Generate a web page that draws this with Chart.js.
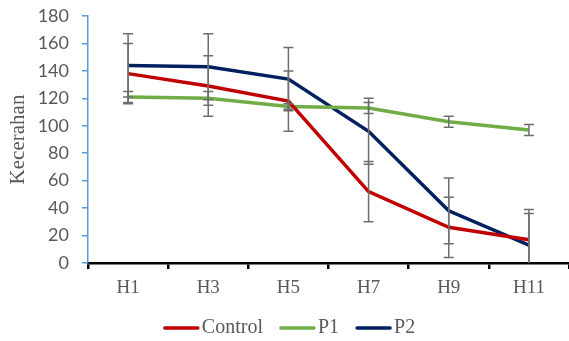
<!DOCTYPE html>
<html lang="en">
<head>
  <meta charset="UTF-8">
  <title>Kecerahan</title>
  <style>
    body { margin: 0; padding: 0; background: #fff; }
    .chart-box { width: 569px; height: 341px; }
  </style>
</head>
<body>
  <div class="chart-box">
    <canvas id="chart" width="569" height="341"></canvas>
  </div>

  <script src="https://cdn.jsdelivr.net/npm/chart.js"></script>
  <script>
    // Data
    const categories = ['H1', 'H3', 'H5', 'H7', 'H9', 'H11'];
    const controlValues = [138, 129, 118, 52, 26, 17];
    const controlErrors = [22, 22, 22, 22, 22, 19];
    const p1Values = [121, 120, 114, 113, 103, 97];
    const p1Errors = [4, 5, 2, 4, 4, 4];
    const p2Values = [144, 143, 134, 96, 38, 13];
    const p2Errors = [23, 24, 23, 24, 24, 26];
    const yTicks = [0, 20, 40, 60, 80, 100, 120, 140, 160, 180];

    const grey = '#595959';

    // Error bars drawn through the scales
    const errorBars = {
      id: 'errorBars',
      afterDatasetsDraw(chart) {
        const { ctx, chartArea, scales } = chart;
        ctx.save();
        ctx.beginPath();
        ctx.rect(chartArea.left - 10, chartArea.top - 10, chartArea.width + 20, chartArea.height + 10);
        ctx.clip();
        ctx.strokeStyle = '#6e6e6e';
        ctx.lineWidth = 1.5;
        chart.data.datasets.forEach(function(ds) {
          ds.values.forEach(function(v, i) {
            const x = scales.x.getPixelForValue(i);
            const top = scales.y.getPixelForValue(v + ds.errors[i]);
            const bottom = scales.y.getPixelForValue(v - ds.errors[i]);
            ctx.beginPath();
            ctx.moveTo(x, top);
            ctx.lineTo(x, bottom);
            ctx.moveTo(x - 5, top);
            ctx.lineTo(x + 5, top);
            ctx.moveTo(x - 5, bottom);
            ctx.lineTo(x + 5, bottom);
            ctx.stroke();
          });
        });
        ctx.restore();
      }
    };

    // Legend at the bottom, Excel style
    const bottomLegend = {
      id: 'bottomLegend',
      afterDraw(chart) {
        const ctx = chart.ctx;
        ctx.save();
        ctx.font = '20px "Liberation Serif"';
        ctx.textBaseline = 'middle';
        const lineLen = 35, gap = 3, spacing = 17;
        const items = chart.data.datasets.map(function(ds) {
          return { label: ds.label, color: ds.borderColor, w: ctx.measureText(ds.label).width };
        });
        let total = 0;
        items.forEach(function(it, i) {
          total += lineLen + gap + it.w + (i < items.length - 1 ? spacing : 0);
        });
        let x = chart.width / 2 + 5 - total / 2;
        const y = 328;
        items.forEach(function(it) {
          ctx.strokeStyle = it.color;
          ctx.lineWidth = 3.5;
          ctx.lineCap = 'round';
          ctx.beginPath();
          ctx.moveTo(x + 1, y);
          ctx.lineTo(x + lineLen - 1, y);
          ctx.stroke();
          ctx.fillStyle = grey;
          ctx.fillText(it.label, x + lineLen + gap, y);
          x += lineLen + gap + it.w + spacing;
        });
        ctx.restore();
      }
    };

    function series(label, values, errors, color) {
      return {
        label: label,
        data: values,
        values: values,
        errors: errors,
        borderColor: color,
        backgroundColor: color,
        borderWidth: 3.5,
        pointRadius: 0,
        tension: 0,
        fill: false
      };
    }

    const ctx = document.getElementById('chart').getContext('2d');
    new Chart(ctx, {
      type: 'line',
      data: {
        labels: categories,
        datasets: [
          series('Control', controlValues, controlErrors, '#c00000'),
          series('P1', p1Values, p1Errors, '#70ad47'),
          series('P2', p2Values, p2Errors, '#002060')
        ]
      },
      options: {
        responsive: false,
        animation: false,
        layout: { padding: { top: 16, right: 0, bottom: 0, left: 0 } },
        plugins: {
          legend: { display: false },
          tooltip: { enabled: false }
        },
        scales: {
          x: {
            offset: true,
            grid: {
              offset: true,
              drawOnChartArea: false,
              drawTicks: true,
              tickLength: 6,
              color: '#000',
              lineWidth: 2.5
            },
            border: { color: '#000', width: 2.5 },
            ticks: {
              color: grey,
              padding: 8,
              maxRotation: 0,
              font: { family: 'Liberation Serif', size: 19 }
            },
            afterFit: function(s) {
              s.height = 78;
              s.paddingLeft = 0;
              s.paddingRight = 0;
            }
          },
          y: {
            min: 0,
            max: 180,
            afterBuildTicks: function(s) { s.ticks = yTicks.map(function(v) { return { value: v }; }); },
            grid: {
              drawOnChartArea: false,
              drawTicks: true,
              tickLength: 6,
              color: '#5b9bd5',
              lineWidth: 1.5
            },
            border: { color: '#5b9bd5', width: 1.5 },
            ticks: {
              color: grey,
              padding: 13,
              font: { family: 'Lato', size: 18 }
            },
            title: {
              display: true,
              text: 'Kecerahan',
              color: grey,
              padding: { top: 6, bottom: 0 },
              font: { family: 'Liberation Serif', size: 21 }
            },
            afterFit: function(s) {
              s.width = 88;
              s.paddingTop = 0;
              s.paddingBottom = 0;
            }
          }
        }
      },
      plugins: [errorBars, bottomLegend]
    });
  </script>
</body>
</html>
